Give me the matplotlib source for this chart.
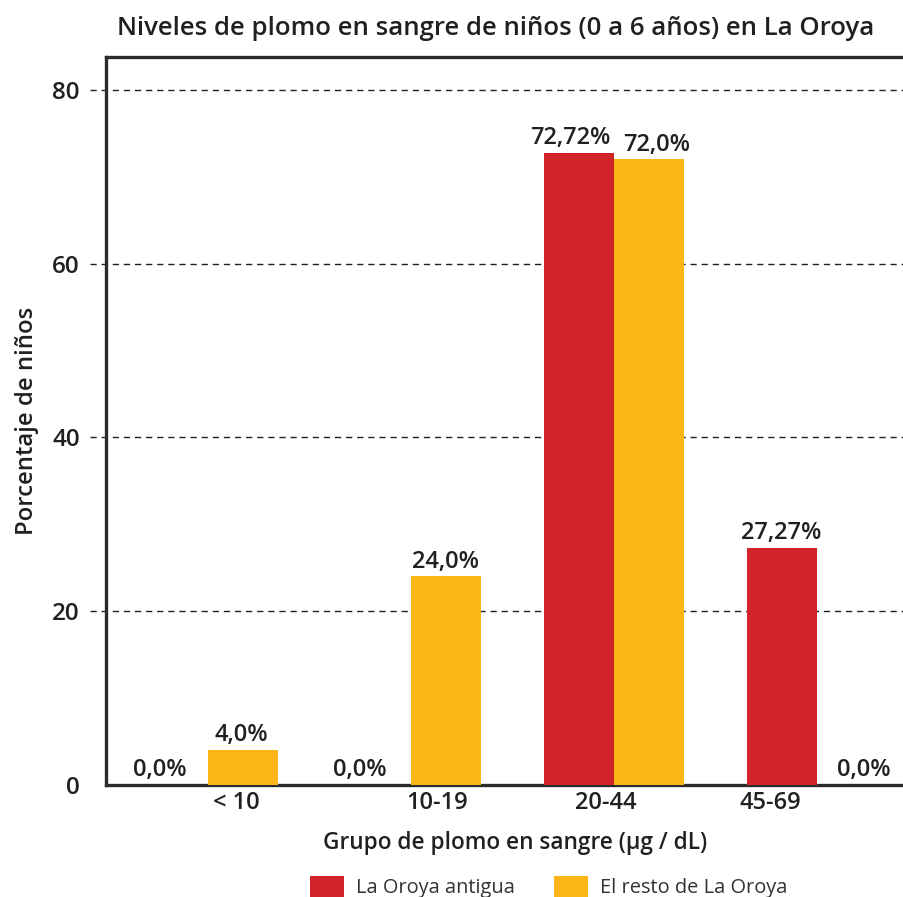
import matplotlib
matplotlib.use("Agg")
import matplotlib.pyplot as plt
import numpy as np
from matplotlib.patches import Patch

# --- data ---
groups = ["< 10", "10-19", "20-44", "45-69"]
oroya_antigua = [0.0, 0.0, 72.72, 27.27]
resto_oroya = [4.0, 24.0, 72.0, 0.0]
labels_antigua = ["0,0%", "0,0%", "72,72%", "27,27%"]
labels_resto = ["4,0%", "24,0%", "72,0%", "0,0%"]
series_names = ["La Oroya antigua", "El resto de La Oroya"]
y_ticks = [0, 20, 40, 60, 80]

RED = "#D2232A"
YELLOW = "#FBB615"
INK = "#231F20"

# horizontal nudges (points) for the value labels so neighbours don't collide
nudge_antigua = [-9, -11, -6, 0]
nudge_resto = [-1, 0, 6, 9]

plt.rcParams["font.family"] = ["Open Sans", "DejaVu Sans"]

fig = plt.figure(figsize=(9.04, 8.97), dpi=100)
ax = fig.add_axes([0.1173, 0.1249, 0.8827, 0.8116])

x = np.arange(len(groups))
width = 0.345
bars_a = ax.bar(x - width / 2, oroya_antigua, width, color=RED, zorder=3)
bars_r = ax.bar(x + width / 2, resto_oroya, width, color=YELLOW, zorder=3)

for bars, texts, nudges in ((bars_a, labels_antigua, nudge_antigua),
                            (bars_r, labels_resto, nudge_resto)):
    for b, t, dx in zip(bars, texts, nudges):
        ax.annotate(t, (b.get_x() + b.get_width() / 2, b.get_height()),
                    xytext=(dx, 2), textcoords="offset points",
                    ha="center", va="bottom", fontsize=17,
                    fontweight="semibold", color=INK, zorder=4)

ax.set_xlim(-0.5, 3.43)
ax.set_ylim(0, 83.8)

# dashed guide lines, running a little past the left spine
for yv in y_ticks[1:]:
    ax.plot([-0.02, 1.0], [yv, yv], transform=ax.get_yaxis_transform(),
            color=INK, lw=1.0, linestyle=(0, (4.5, 3.5)), clip_on=False,
            zorder=1)

# tick label positions under each group
label_offsets = [0.14, 0.13, -0.04, -0.23]
ax.set_xticks(x + np.array(label_offsets))
ax.set_xticklabels(groups, fontsize=17, fontweight="semibold", color=INK)
ax.set_yticks(y_ticks)
ax.set_yticklabels([str(v) for v in y_ticks], fontsize=17.5,
                   fontweight="semibold", color=INK)
ax.tick_params(axis="both", length=0)
ax.tick_params(axis="y", pad=19)
ax.tick_params(axis="x", pad=4)

for side in ("left", "top", "bottom"):
    ax.spines[side].set_linewidth(2.4)
    ax.spines[side].set_color("#2B2B2B")
ax.spines["right"].set_visible(False)

ax.set_xlabel("Grupo de plomo en sangre (\u03bcg / dL)", fontsize=16.3,
              fontweight="semibold", color=INK)
ax.xaxis.set_label_coords(0.5125, -0.063)
ax.set_ylabel("Porcentaje de niños", fontsize=17.2, fontweight="semibold",
              color=INK)
ax.yaxis.set_label_coords(-0.084, 0.5)
fig.text(0.548, 0.968, "Niveles de plomo en sangre de niños (0 a 6 años) en La Oroya",
         ha="center", va="center", fontsize=18.5, fontweight="semibold",
         color=INK)

handles = [Patch(facecolor=RED, label=series_names[0]),
           Patch(facecolor=YELLOW, label=series_names[1])]
fig.legend(handles=handles, loc="lower center", bbox_to_anchor=(0.607, -0.021),
           ncol=2, frameon=False, handlelength=1.7,
           handleheight=1.25, columnspacing=1.95, handletextpad=0.6,
           labelcolor="#333333", prop={"size": 14.4})

fig.savefig("out.png", dpi=100)
